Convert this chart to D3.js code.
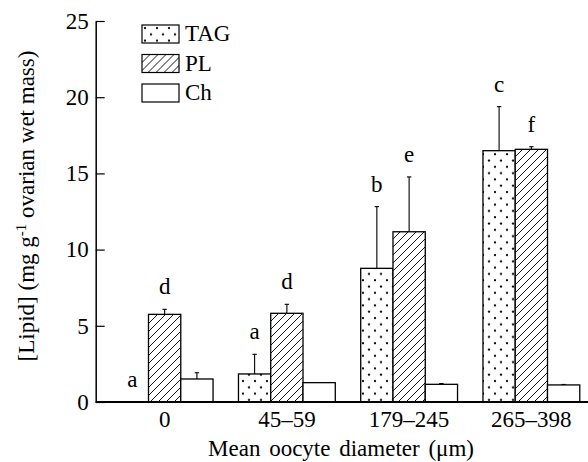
<!DOCTYPE html>
<html>
<head>
<meta charset="utf-8">
<script src="https://cdn.jsdelivr.net/npm/d3@7"></script>
<style>
body { margin: 0; background: #fff; }
</style>
</head>
<body>
<div id="chart"></div>
<script>
var width = 588, height = 462;
var serif = "Liberation Serif";

// data
var groups = ["0", "45\u201359", "179\u2013245", "265\u2013398"];
var lipids = ["TAG", "PL", "Ch"];
var tagMean = [0, 1.84, 8.77, 16.49];
var tagErr = [0, 1.29, 4.05, 2.89];
var plMean = [5.75, 5.82, 11.17, 16.58];
var plErr = [0.33, 0.59, 3.6, 0.17];
var chMean = [1.51, 1.27, 1.16, 1.12];
var chErr = [0.41, 0, 0.05, 0.03];
var tagLetters = ["a", "a", "b", "c"];
var plLetters = ["d", "d", "e", "f"];
var yTicks = [0, 5, 10, 15, 20, 25];

var rows = [];
groups.forEach(function(g, i) {
  rows.push({group: g, lipid: "TAG", value: tagMean[i], err: tagErr[i], letter: tagLetters[i]});
  rows.push({group: g, lipid: "PL", value: plMean[i], err: plErr[i], letter: plLetters[i]});
  rows.push({group: g, lipid: "Ch", value: chMean[i], err: chErr[i], letter: null});
});

var svg = d3.select("#chart").append("svg")
  .attr("width", width)
  .attr("height", height)
  .attr("font-family", serif);

var defs = svg.append("defs");

var dots = defs.append("pattern")
  .attr("id", "dots")
  .attr("patternUnits", "userSpaceOnUse")
  .attr("width", 12).attr("height", 12.6);
dots.append("rect").attr("width", 12).attr("height", 12.6).attr("fill", "#fff");
dots.append("circle").attr("cx", 3).attr("cy", 3).attr("r", 1.15).attr("fill", "#000");
dots.append("circle").attr("cx", 9).attr("cy", 9.3).attr("r", 1.15).attr("fill", "#000");

var hatch = defs.append("pattern")
  .attr("id", "hatch")
  .attr("patternUnits", "userSpaceOnUse")
  .attr("width", 8).attr("height", 8);
hatch.append("rect").attr("width", 8).attr("height", 8).attr("fill", "#fff");
hatch.append("path")
  .attr("d", "M0,8L8,0M-2,2L2,-2M6,10L10,6")
  .attr("stroke", "#000")
  .attr("stroke-width", 0.9);

var fills = {TAG: "url(#dots)", PL: "url(#hatch)", Ch: "#fff"};

var x0 = d3.scaleBand()
  .domain(groups)
  .range([104, 592])
  .paddingInner(0.208)
  .paddingOuter(0.1);

var x1 = d3.scaleBand()
  .domain(lipids)
  .range([0, x0.bandwidth()]);

var y = d3.scaleLinear()
  .domain([0, 25])
  .range([402, 21]);

var axisX = 95.7;

// bars
svg.selectAll(".bar")
  .data(rows)
  .enter()
  .append("rect")
  .attr("class", "bar")
  .attr("x", function(d) { return x0(d.group) + x1(d.lipid); })
  .attr("y", function(d) { return y(d.value); })
  .attr("width", x1.bandwidth())
  .attr("height", function(d) { return y(0) - y(d.value); })
  .attr("fill", function(d) { return fills[d.lipid]; })
  .attr("stroke", "#000")
  .attr("stroke-width", 1.3);

// error bars (upper only)
var errRows = rows.filter(function(d) { return d.err > 0; });
var cx = function(d) { return x0(d.group) + x1(d.lipid) + x1.bandwidth() / 2; };

svg.selectAll(".err")
  .data(errRows)
  .enter()
  .append("line")
  .attr("class", "err")
  .attr("x1", cx).attr("x2", cx)
  .attr("y1", function(d) { return y(d.value); })
  .attr("y2", function(d) { return y(d.value + d.err); })
  .attr("stroke", "#000")
  .attr("stroke-width", 1.1);

svg.selectAll(".cap")
  .data(errRows)
  .enter()
  .append("line")
  .attr("class", "cap")
  .attr("x1", function(d) { return cx(d) - 2.2; })
  .attr("x2", function(d) { return cx(d) + 2.2; })
  .attr("y1", function(d) { return y(d.value + d.err); })
  .attr("y2", function(d) { return y(d.value + d.err); })
  .attr("stroke", "#000")
  .attr("stroke-width", 1.1);

// significance letters
svg.selectAll(".letter")
  .data(rows.filter(function(d) { return d.letter; }))
  .enter()
  .append("text")
  .attr("class", "letter")
  .attr("x", cx)
  .attr("y", function(d) { return y(d.value + d.err) - 15; })
  .attr("text-anchor", "middle")
  .attr("font-size", 23)
  .text(function(d) { return d.letter; });

// y axis
var yAxis = d3.axisLeft(y)
  .tickValues(yTicks)
  .tickSizeInner(-9)
  .tickSizeOuter(0)
  .tickPadding(7);

var gy = svg.append("g")
  .attr("transform", "translate(" + axisX + ",0)")
  .call(yAxis)
  .attr("font-family", serif)
  .attr("font-size", 23);
gy.select(".domain").attr("stroke-width", 1.5);
gy.selectAll(".tick line").attr("stroke-width", 1.2);

// x axis
var xAxis = d3.axisBottom(x0)
  .tickSize(0)
  .tickPadding(9);

var gx = svg.append("g")
  .attr("transform", "translate(0," + y(0) + ")")
  .call(xAxis)
  .attr("font-family", serif)
  .attr("font-size", 23);
gx.select(".domain")
  .attr("d", "M" + axisX + ",0H" + width)
  .attr("stroke-width", 1.8);

// axis titles
svg.append("text")
  .attr("x", 341)
  .attr("y", 456)
  .attr("text-anchor", "middle")
  .attr("font-size", 23)
  .attr("word-spacing", 3)
  .text("Mean oocyte diameter (\u03bcm)");

var yTitle = svg.append("text")
  .attr("transform", "translate(34,206) rotate(-90)")
  .attr("text-anchor", "middle")
  .attr("font-size", 23);
yTitle.append("tspan").text("[Lipid] (mg g");
yTitle.append("tspan").attr("dy", -8).attr("font-size", 15).text("-1");
yTitle.append("tspan").attr("dy", 8).text(" ovarian wet mass)");

// legend
var legend = svg.selectAll(".legend")
  .data(lipids)
  .enter()
  .append("g")
  .attr("class", "legend")
  .attr("transform", function(d, i) { return "translate(142," + (25 + i * 29.5) + ")"; });

legend.append("rect")
  .attr("width", 37)
  .attr("height", 18)
  .attr("fill", function(d) { return fills[d]; })
  .attr("stroke", "#000")
  .attr("stroke-width", 1.2);

legend.append("text")
  .attr("x", 43)
  .attr("y", 16)
  .attr("font-size", 23)
  .text(function(d) { return d; });
</script>
</body>
</html>
